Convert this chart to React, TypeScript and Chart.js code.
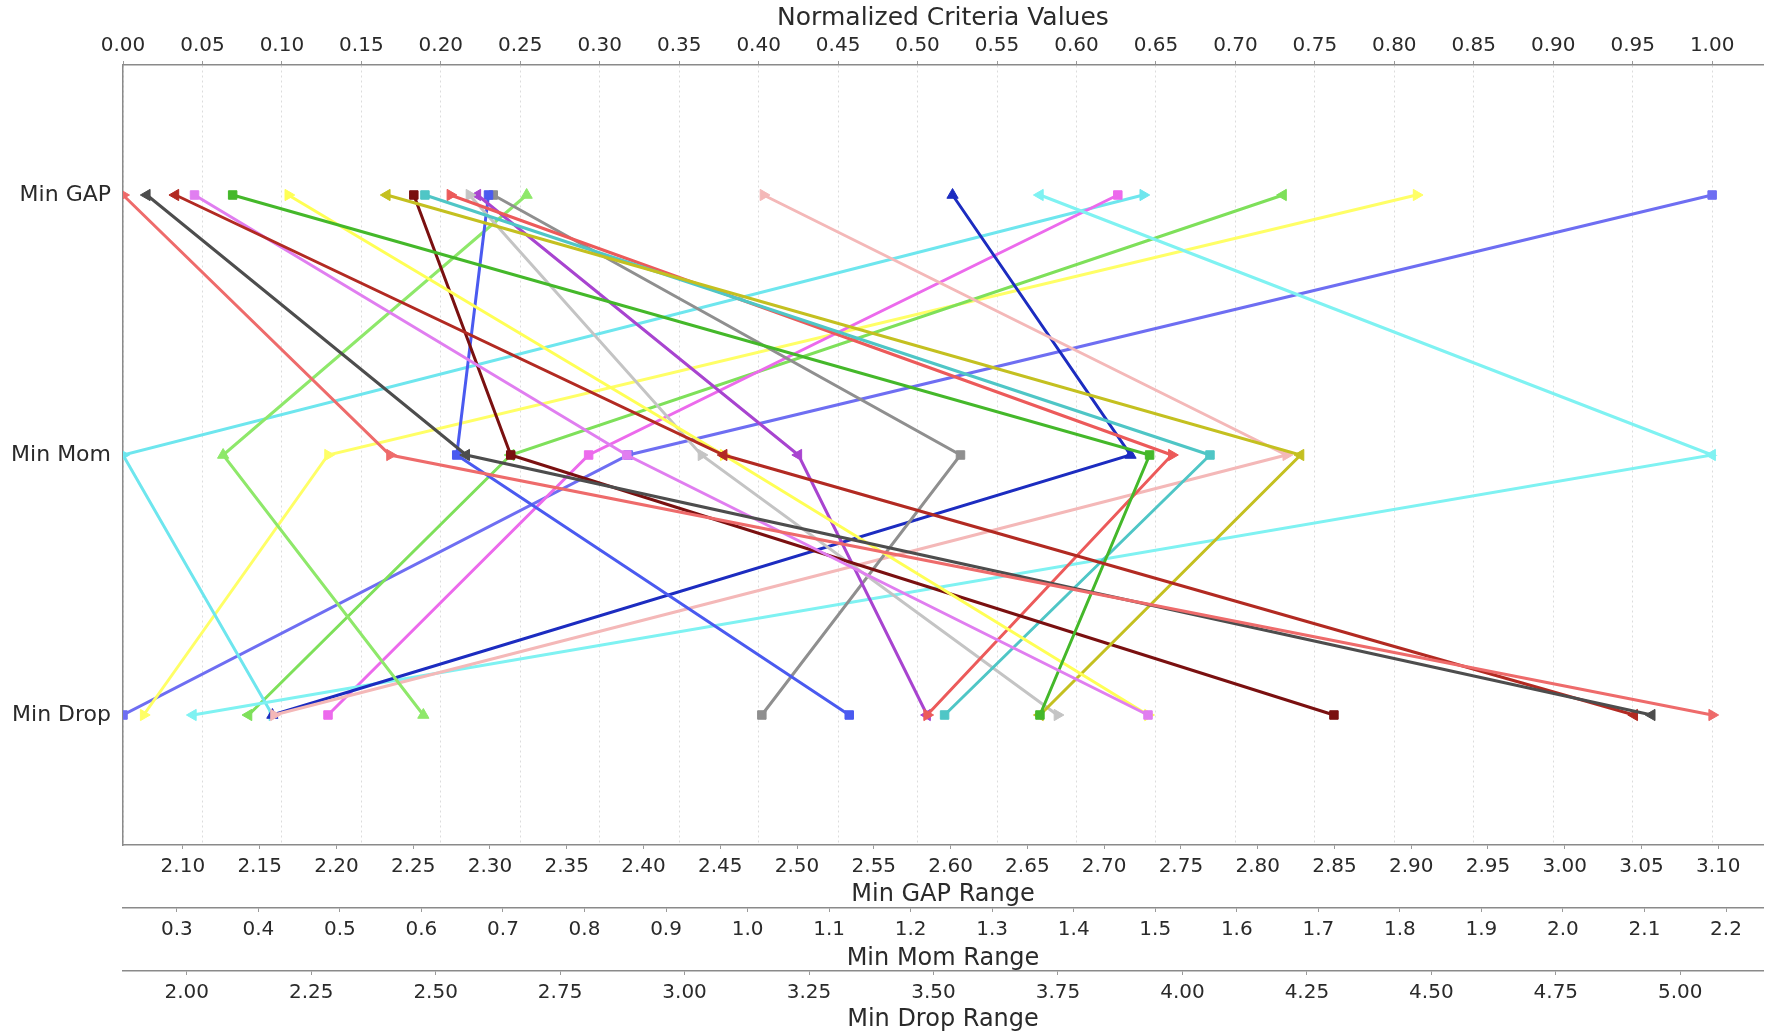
import React, { useEffect, useRef } from 'react';
import { Chart, registerables } from 'chart.js';

Chart.register(...registerables);

// ---------- data ----------
const categories = ['Min GAP', 'Min Mom', 'Min Drop'];

// normalized criteria values per series (GAP, Mom, Drop)
const gapValues = [0.000, 0.015, 0.033, 0.045, 0.069, 0.104, 0.166, 0.183, 0.190, 0.206, 0.218, 0.223, 0.230, 0.233, 0.254, 0.403, 0.522, 0.577, 0.626, 0.642, 0.730, 0.814, 1.000];
const momValues = [0.168, 0.216, 0.378, 0.317, 0.646, 0.378, 0.741, 0.244, 0.684, 0.660, 0.364, 0.425, 0.210, 0.527, 0.063, 0.732, 0.634, 1.000, 0.293, 0.000, 0.244, 0.129, 0.318];
const dropValues = [1.000, 0.962, 0.951, 0.645, 0.577, 0.645, 0.577, 0.762, 0.517, 0.506, 0.588, 0.506, 0.457, 0.402, 0.189, 0.095, 0.094, 0.044, 0.129, 0.094, 0.079, 0.013, 0.000];

const seriesColors = [
  '#ee6b6b', '#4d4d4d', '#b22a22', '#e07ef0', '#44b82a', '#ffff55', '#c4c020', '#7a1010',
  '#4fc6c6', '#ec5a5a', '#c4c4c4', '#a844d0', '#4a5af0', '#8f8f8f', '#8ee86a', '#f4b8b8',
  '#1c2cc0', '#7ff2f2', '#ec6aec', '#6ee6ee', '#7ee05a', '#ffff66', '#6e6ef2',
];
const seriesMarkers = [
  'tr', 'tl', 'tl', 'sq', 'sq', 'tr', 'tl', 'sq',
  'sq', 'tr', 'tr', 'tl', 'sq', 'sq', 'tu', 'tr',
  'tu', 'tl', 'sq', 'tr', 'tl', 'tr', 'sq',
];

// axis ticks
const normTicks = [0.00, 0.05, 0.10, 0.15, 0.20, 0.25, 0.30, 0.35, 0.40, 0.45, 0.50, 0.55, 0.60, 0.65, 0.70, 0.75, 0.80, 0.85, 0.90, 0.95, 1.00];
const gapTicks = [2.10, 2.15, 2.20, 2.25, 2.30, 2.35, 2.40, 2.45, 2.50, 2.55, 2.60, 2.65, 2.70, 2.75, 2.80, 2.85, 2.90, 2.95, 3.00, 3.05, 3.10];
const momTicks = [0.3, 0.4, 0.5, 0.6, 0.7, 0.8, 0.9, 1.0, 1.1, 1.2, 1.3, 1.4, 1.5, 1.6, 1.7, 1.8, 1.9, 2.0, 2.1, 2.2];
const dropTicks = [2.00, 2.25, 2.50, 2.75, 3.00, 3.25, 3.50, 3.75, 4.00, 4.25, 4.50, 4.75, 5.00];

// raw ranges that correspond to normalized 0 and 1
const gapRange = [2.061, 3.096];
const momRange = [0.234, 2.183];
const dropRange = [1.872, 5.064];
const normMax = 1.032;

const FONT = '"DejaVu Sans", "Liberation Sans", sans-serif';
const AXIS_COLOR = '#8a8a8a';
const TEXT_COLOR = '#2a2a2a';

function markerProps(m: string) {
  switch (m) {
    case 'sq': return { pointStyle: 'rect', pointRotation: 0, pointRadius: 6 };
    case 'tr': return { pointStyle: 'triangle', pointRotation: 90, pointRadius: 6.5 };
    case 'tl': return { pointStyle: 'triangle', pointRotation: -90, pointRadius: 6.5 };
    case 'td': return { pointStyle: 'triangle', pointRotation: 180, pointRadius: 6.5 };
    default: return { pointStyle: 'triangle', pointRotation: 0, pointRadius: 6.5 };
  }
}

function rangeAxis(range: number[], ticks: number[], digits: number, title: string, weight: number, height: number, titlePadBottom: number) {
  return {
    type: 'linear',
    position: 'bottom',
    weight,
    min: range[0],
    max: range[0] + (range[1] - range[0]) * normMax,
    afterBuildTicks: (s: any) => { s.ticks = ticks.map((v) => ({ value: v })); },
    afterFit: (s: any) => { s.height = height; },
    ticks: {
      callback: (v: any) => Number(v).toFixed(digits),
      font: { family: FONT, size: 20 },
      color: TEXT_COLOR,
      padding: 6,
      autoSkip: false,
      maxRotation: 0,
    },
    grid: { drawOnChartArea: false, tickLength: 4, color: '#9a9a9a', display: true },
    border: { display: true, color: AXIS_COLOR, width: 1.5 },
    title: {
      display: true,
      text: title,
      font: { family: FONT, size: 24, lineHeight: 1.0 },
      color: TEXT_COLOR,
      padding: { top: 0, bottom: titlePadBottom },
    },
  };
}

export default function App() {
  const canvasRef = useRef<HTMLCanvasElement | null>(null);

  useEffect(() => {
    document.body.style.margin = '0';
    const canvas = canvasRef.current;
    if (!canvas) return;

    const datasets = gapValues.map((g, i) => ({
      label: 'Series ' + (i + 1),
      data: [
        { x: g, y: categories[0] },
        { x: momValues[i], y: categories[1] },
        { x: dropValues[i], y: categories[2] },
      ],
      borderColor: seriesColors[i],
      backgroundColor: seriesColors[i],
      pointBackgroundColor: seriesColors[i],
      pointBorderColor: seriesColors[i],
      pointBorderWidth: 1,
      borderWidth: 3,
      tension: 0,
      fill: false,
      xAxisID: 'x',
      yAxisID: 'y',
      ...markerProps(seriesMarkers[i]),
    }));

    const chart = new Chart(canvas, {
      type: 'line',
      data: { labels: categories, datasets } as any,
      options: {
        animation: false,
        responsive: false,
        indexAxis: 'y',
        layout: { padding: { left: 0, right: 10, top: 0, bottom: 0 } },
        plugins: {
          legend: { display: false },
          tooltip: { enabled: false },
        },
        scales: {
          x: {
            type: 'linear',
            position: 'top',
            min: 0,
            max: normMax,
            afterBuildTicks: (s: any) => { s.ticks = normTicks.map((v) => ({ value: v })); },
            afterFit: (s: any) => { s.height = 65; },
            ticks: {
              callback: (v: any) => Number(v).toFixed(2),
              font: { family: FONT, size: 20 },
              color: TEXT_COLOR,
              padding: 3,
              autoSkip: false,
              maxRotation: 0,
            },
            grid: {
              color: '#dcdcdc',
              lineWidth: 1,
              tickLength: 4,
              tickColor: '#9a9a9a',
              tickBorderDash: [],
            },
            border: { display: true, color: AXIS_COLOR, width: 1.5, dash: [2, 3] },
            title: {
              display: true,
              text: 'Normalized Criteria Values',
              font: { family: FONT, size: 25, lineHeight: 1.0 },
              color: TEXT_COLOR,
              padding: { top: 6, bottom: 0 },
            },
          },
          y: {
            type: 'category',
            labels: categories,
            offset: true,
            afterFit: (s: any) => { s.width = 123; },
            grid: { display: false },
            border: { display: true, color: AXIS_COLOR, width: 1.5 },
            ticks: {
              font: { family: FONT, size: 22 },
              color: TEXT_COLOR,
              padding: 4,
            },
          },
          xGap: rangeAxis(gapRange, gapTicks, 2, 'Min GAP Range', 1, 63, 1),
          xMom: rangeAxis(momRange, momTicks, 1, 'Min Mom Range', 2, 63, 0),
          xDrop: rangeAxis(dropRange, dropTicks, 2, 'Min Drop Range', 3, 61, 0),
        } as any,
      } as any,
    });

    return () => {
      chart.destroy();
    };
  }, []);

  return (
    <div style={{ width: 1773, height: 1032, background: '#ffffff', position: 'relative' }}>
      <canvas ref={canvasRef} width={1773} height={1032} style={{ display: 'block' }} />
    </div>
  );
}
